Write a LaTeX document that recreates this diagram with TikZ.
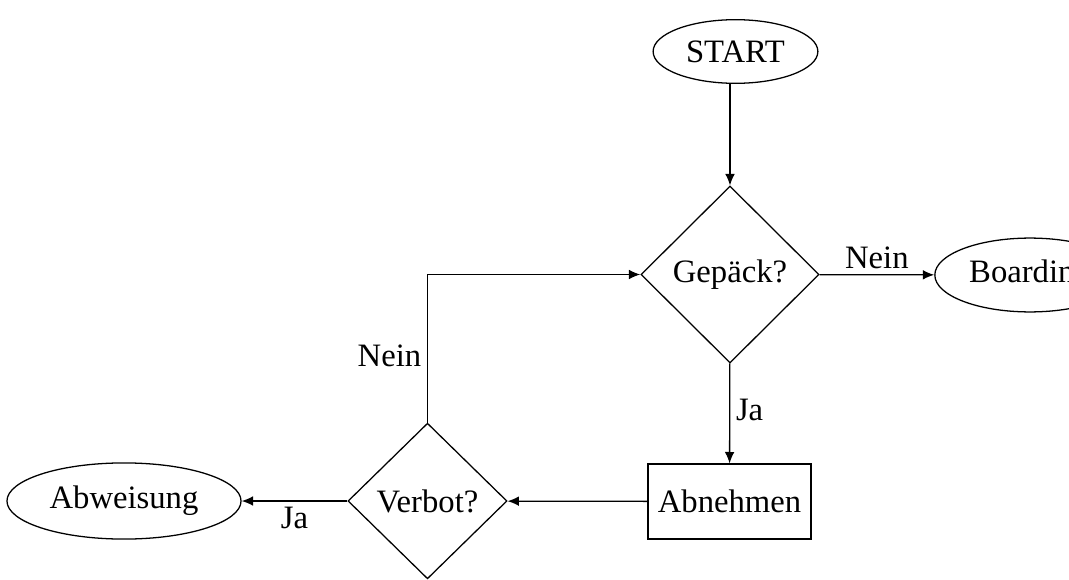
\documentclass[tikz,border=0pt]{standalone}
\usepackage{fontspec}
\setmainfont{Liberation Serif}
\usetikzlibrary{shapes.geometric,arrows.meta}
\tikzset{
  term/.style={draw, ellipse, inner sep=1pt},
  decide/.style={draw, diamond, aspect=1, inner sep=1pt},
  proc/.style={draw, rectangle, inner sep=2pt, minimum height=26.4pt, minimum width=57.4pt},
  conn/.style={-{Latex[length=4pt,width=3.4pt]}, line width=0.45pt},
  lbl/.style={inner sep=2pt}
}
\begin{document}
\begin{tikzpicture}[x=0.352pt, y=-0.352pt, line width=0.45pt, every node/.style={font=\fontsize{11.5}{13}\selectfont}]
\useasboundingbox (0,0) rectangle (1069,580);
\node[term, minimum width=58pt, minimum height=22.4pt] (start) at (735.5,51.5) {START};
\node[decide, minimum width=62.7pt, minimum height=62.3pt] (gep) at (730,274.5) {Gepäck?};
\node[term, minimum width=67pt, minimum height=26pt] (board) at (1030,275) {Boarding};
\node[proc] (abn) at (729.5,501.5) {Abnehmen};
\node[decide, minimum width=56pt, minimum height=54.8pt] (verb) at (427.5,501) {Verbot?};
\node[term, minimum width=82.4pt, minimum height=26.8pt] (abw) at (124,501) {Abweisung};
\coordinate (corner) at (verb.north |- gep.west);
\draw[conn] (start.south -| gep.north) -- (gep);
\draw[conn] (gep) -- node[lbl, above] {Nein} (board);
\draw[conn] (gep) -- node[lbl, right, pos=0.47] {Ja} (abn);
\draw[conn] (abn) -- (verb);
\draw[conn] (verb) -- node[lbl, below, pos=0.5] {Ja} (abw);
\draw[conn] (verb.north) -- node[lbl, left, pos=0.45] {Nein} (corner) -- (gep.west);
\end{tikzpicture}
\end{document}
